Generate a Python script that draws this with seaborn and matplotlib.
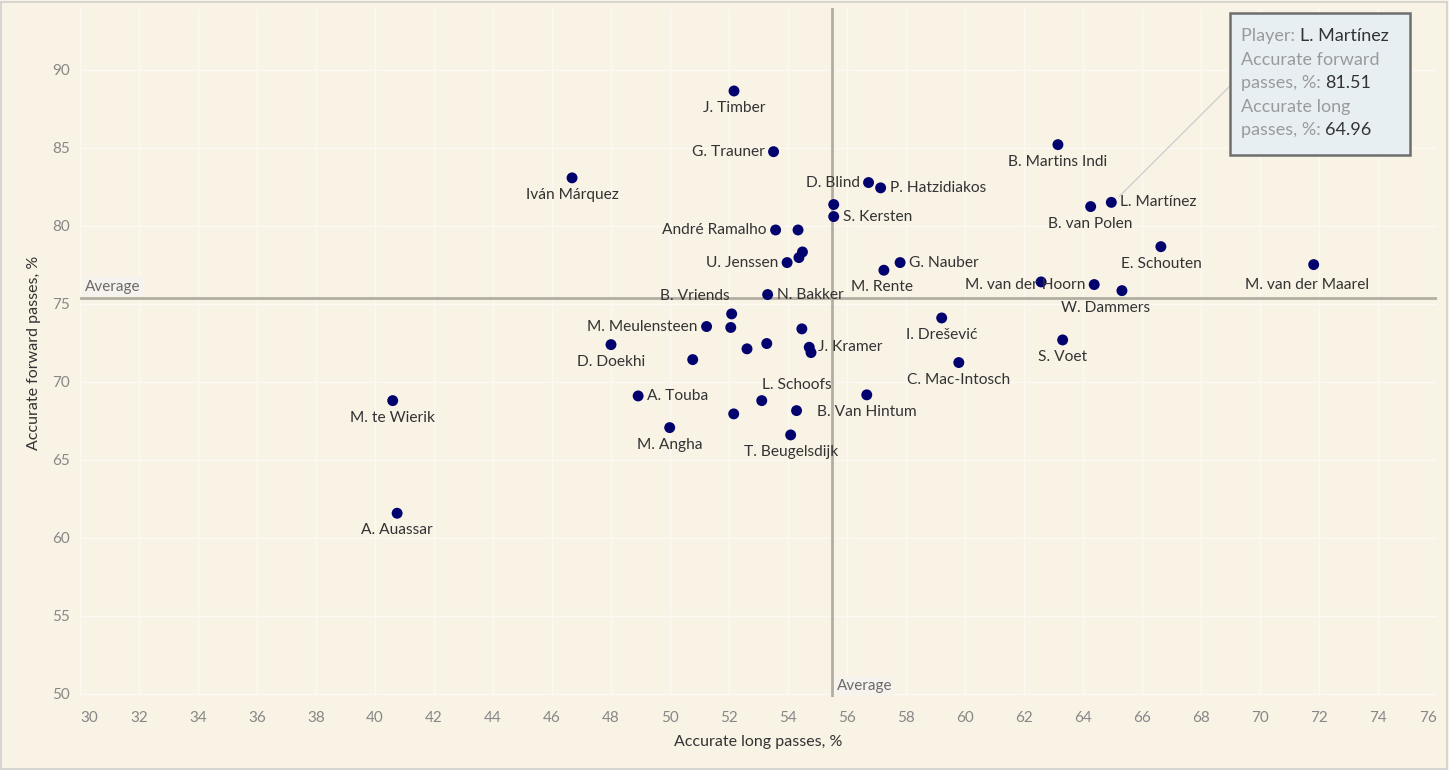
import numpy as np
import pandas as pd
import matplotlib
matplotlib.use("Agg")
import matplotlib.pyplot as plt
from matplotlib.patches import Rectangle
from matplotlib.lines import Line2D
from matplotlib.text import Annotation
import seaborn as sns

# ---------------- data ----------------
players = [
    "J. Timber", "G. Trauner", "Iván Márquez", "B. Martins Indi", "L. Martínez",
    "B. van Polen", "D. Blind", "P. Hatzidiakos", "", "S. Kersten",
    "André Ramalho", "", "", "", "U. Jenssen",
    "G. Nauber", "M. Rente", "N. Bakker", "E. Schouten", "M. van der Maarel",
    "", "M. van der Hoorn", "W. Dammers", "I. Drešević", "C. Mac-Intosch",
    "S. Voet", "B. Vriends", "M. Meulensteen", "", "",
    "D. Doekhi", "", "", "J. Kramer", "",
    "", "A. Touba", "M. Angha", "", "",
    "L. Schoofs", "B. Van Hintum", "T. Beugelsdijk", "M. te Wierik", "A. Auassar",
]
long_passes = [
    52.17, 53.51, 46.68, 63.15, 64.96,
    64.26, 56.73, 57.14, 55.55, 55.55,
    53.58, 54.34, 54.49, 54.37, 53.97,
    57.80, 57.25, 53.31, 66.64, 71.82,
    62.58, 64.38, 65.32, 59.21, 59.79,
    63.31, 52.09, 51.24, 52.06, 54.47,
    48.00, 52.61, 53.28, 54.72, 54.78,
    50.77, 48.92, 49.99, 52.16, 53.11,
    54.29, 56.67, 54.09, 40.60, 40.75,
]
forward_passes = [
    88.65, 84.76, 83.08, 85.21, 81.51,
    81.24, 82.78, 82.44, 81.37, 80.60,
    79.74, 79.74, 78.33, 77.97, 77.65,
    77.65, 77.16, 75.60, 78.67, 77.52,
    76.41, 76.24, 75.85, 74.10, 71.24,
    72.69, 74.36, 73.55, 73.49, 73.40,
    72.39, 72.12, 72.46, 72.22, 71.88,
    71.43, 69.10, 67.07, 67.95, 68.80,
    68.16, 69.17, 66.60, 68.80, 61.58,
]
x_ticks = list(range(30, 77, 2))
y_ticks = list(range(50, 91, 5))
x_label = "Accurate long passes, %"
y_label = "Accurate forward passes, %"
tooltip_player = "L. Martínez"

df = pd.DataFrame({"player": players, "long": long_passes, "forward": forward_passes})

# label placement (pixel offsets from the mark; y up)
R, L_, B = (9, 0, "left"), (-9, 0, "right"), (0, -17, "center")
label_pos = {
    "J. Timber": B, "G. Trauner": L_, "Iván Márquez": B, "B. Martins Indi": B,
    "L. Martínez": R, "B. van Polen": B, "D. Blind": L_, "P. Hatzidiakos": R,
    "S. Kersten": R, "André Ramalho": L_, "U. Jenssen": L_, "G. Nauber": R,
    "M. Rente": (-2, -17, "center"), "N. Bakker": R, "E. Schouten": B,
    "M. van der Maarel": (-7, -20, "center"), "M. van der Hoorn": L_,
    "W. Dammers": (-16, -17, "center"), "I. Drešević": B, "C. Mac-Intosch": B,
    "S. Voet": B, "B. Vriends": (-37, 18, "center"), "M. Meulensteen": L_,
    "D. Doekhi": B, "J. Kramer": R, "A. Touba": R, "M. Angha": B,
    "L. Schoofs": (0, 26, "center"), "B. Van Hintum": B, "T. Beugelsdijk": B,
    "M. te Wierik": B, "A. Auassar": B,
}

# ---------------- style ----------------
BG = "#F9F3E6"
NAVY = "#02026E"
sns.set_theme(style="white")
plt.rcParams["font.family"] = ["Lato", "DejaVu Sans"]

W, H = 1449, 770
fig = plt.figure(figsize=(14.49, 7.70), dpi=100, facecolor=BG)
ax = fig.add_axes([80 / W, 1 - 697 / H, (1437 - 80) / W, (697 - 8) / H])
ax.set_facecolor(BG)

sns.scatterplot(data=df, x="long", y="forward", ax=ax, color=NAVY, s=62,
                edgecolor="none", linewidth=0, zorder=5, legend=False)

ax.set_xlim(30, 76)
ax.set_ylim(49.8, 93.97)
ax.set_xticks(x_ticks)
ax.set_yticks(y_ticks)
ax.grid(True, color="#FCF9F3", lw=1.0, zorder=0)
ax.set_axisbelow(True)
for s in ax.spines.values():
    s.set_visible(False)
ax.tick_params(axis="both", length=0, labelsize=11, colors="#878787", pad=7)
ax.tick_params(axis="x", pad=10)
xtl = ax.get_xticklabels()
xtl[0].set_ha("left")
xtl[-1].set_ha("right")

ax.set_xlabel(x_label, fontsize=11.5, color="#333333", labelpad=7)
ax.set_ylabel(y_label, fontsize=11.5, color="#333333", labelpad=8)

# average reference lines
avg_x = float(np.mean(long_passes))
avg_y = float(np.mean(forward_passes))
ax.axhline(avg_y, color="#B3ADA2", lw=2, zorder=2)
ax.axvline(avg_x, color="#B3ADA2", lw=2, zorder=2)
bbox = dict(boxstyle="square,pad=0.15", fc="#F6F3EE", ec="none")
ax.annotate("Average", xy=(30, avg_y), xytext=(5, 4), textcoords="offset pixels",
            ha="left", va="bottom", fontsize=11, color="#6b6b6b", bbox=bbox, zorder=3)
ax.annotate("Average", xy=(avg_x, 49.8), xytext=(5, 4), textcoords="offset pixels",
            ha="left", va="bottom", fontsize=11, color="#6b6b6b", bbox=bbox, zorder=3)

# point labels
for name, xv, yv in zip(players, long_passes, forward_passes):
    if not name:
        continue
    dx, dy, ha = label_pos.get(name, B)
    ax.annotate(name, xy=(xv, yv), xytext=(dx, dy), textcoords="offset pixels",
                ha=ha, va="center", fontsize=11.2, color="#333333", zorder=6)

# tooltip
i = players.index(tooltip_player)
px, py = ax.transData.transform((long_passes[i], forward_passes[i]))
fig.add_artist(Line2D([(px + 8) / W, 1230 / W], [(py + 6) / H, 1 - 86 / H],
                      color="#CFCFCF", lw=1, transform=fig.transFigure, zorder=2))
fig.add_artist(Rectangle((1230 / W, 1 - 155 / H), 180 / W, 142 / H,
                         transform=fig.transFigure, fc="#E8EFF3", ec="#6E6E6E",
                         lw=1.8, zorder=2))
fs = 13
lines = [
    ("Player: ", tooltip_player, 36),
    ("Accurate forward", None, 60),
    ("passes, %: ", f"{forward_passes[i]:.2f}", 83),
    ("Accurate long", None, 107),
    ("passes, %: ", f"{long_passes[i]:.2f}", 130),
]
for lab, val, yy in lines:
    t = fig.text(1241 / W, 1 - yy / H, lab, fontsize=fs, color="#9A9A9A",
                 ha="left", va="center", zorder=4)
    if val:
        fig.add_artist(Annotation(val, xy=(1, 0.5), xycoords=t, ha="left",
                                  va="center", fontsize=fs, color="#333333",
                                  zorder=4, annotation_clip=False))

# outer frame
fig.add_artist(Rectangle((1 / W, 1 / H), (W - 3) / W, (H - 3) / H,
                         transform=fig.transFigure, fc="none", ec="#CFCFCF", lw=1.2))

fig.savefig("out.png", dpi=100, facecolor=BG)
